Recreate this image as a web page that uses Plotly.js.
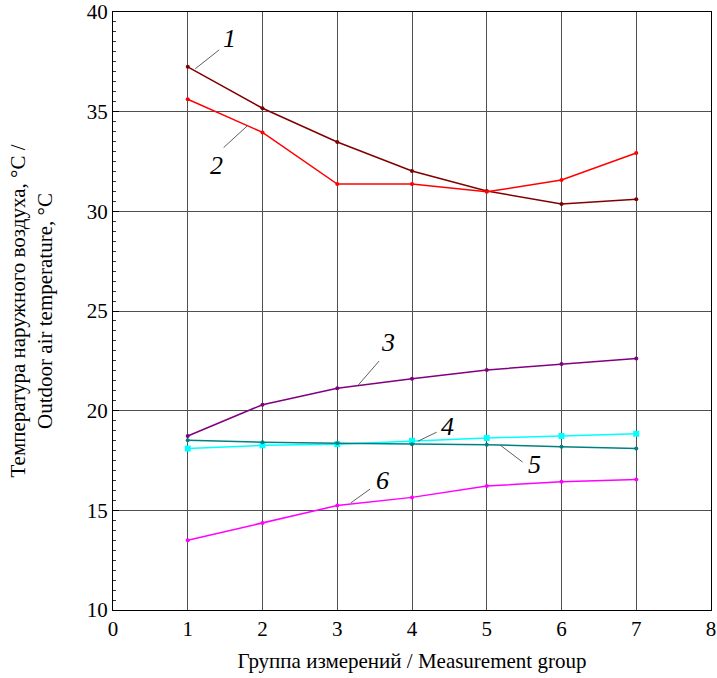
<!DOCTYPE html>
<html>
<head>
<meta charset="utf-8">
<script src="https://cdn.plot.ly/plotly-3.0.1.min.js"></script>
<style>
  html, body { margin: 0; padding: 0; background: #fff; }
  #chart { width: 717px; height: 678px; }
</style>
</head>
<body>
<div id="chart"></div>
<script>
// Measurement groups
const groups = [1, 2, 3, 4, 5, 6, 7];

// Outdoor air temperature, °C, for curves 1–6
const curve1 = [37.25, 35.17, 33.48, 32.02, 31.02, 30.37, 30.60];
const curve2 = [35.62, 33.96, 31.37, 31.37, 30.98, 31.57, 32.93];
const curve3 = [18.73, 20.30, 21.12, 21.60, 22.04, 22.34, 22.62];
const curve4 = [18.10, 18.26, 18.32, 18.49, 18.63, 18.73, 18.84];
const curve5 = [18.52, 18.42, 18.37, 18.32, 18.29, 18.19, 18.10];
const curve6 = [13.50, 14.36, 15.24, 15.65, 16.22, 16.43, 16.55];

const curveLabels = ['1', '2', '3', '4', '5', '6'];
const curveColors = ['#800000', '#ff0000', '#800080', '#00ffff', '#008080', '#ff00ff'];

const xTicks = [0, 1, 2, 3, 4, 5, 6, 7, 8];
const yTicks = [10, 15, 20, 25, 30, 35, 40];

const series = [curve1, curve2, curve3, curve4, curve5, curve6];

const traces = series.map((vals, i) => ({
  x: groups,
  y: vals,
  type: 'scatter',
  mode: 'lines+markers',
  name: curveLabels[i],
  line: { color: curveColors[i], width: 1.5 },
  marker: {
    color: curveColors[i],
    size: i === 3 ? 6 : 4,
    symbol: i === 3 ? 'square' : 'circle'
  },
  showlegend: false
}));

// Curve number labels with thin leader lines (data coordinates)
const labelPos = [
  { tx: 1.56, ty: 38.65, lx0: 1.10, ly0: 37.15, lx1: 1.42, ly1: 38.1 },
  { tx: 1.39, ty: 32.3, lx0: 1.80, ly0: 34.3, lx1: 1.48, ly1: 33.2 },
  { tx: 3.68, ty: 23.44, lx0: 3.28, ly0: 21.28, lx1: 3.56, ly1: 22.49 },
  { tx: 4.48, ty: 19.22, lx0: 4.08, ly0: 18.47, lx1: 4.33, ly1: 18.92 },
  { tx: 5.64, ty: 17.32, lx0: 5.18, ly0: 18.27, lx1: 5.48, ly1: 17.42 },
  { tx: 3.61, ty: 16.51, lx0: 3.18, ly0: 15.37, lx1: 3.44, ly1: 16.07 }
];

const annotations = labelPos.map((p, i) => ({
  x: p.tx, y: p.ty, xref: 'x', yref: 'y',
  text: curveLabels[i],
  showarrow: false,
  font: { family: 'Liberation Serif', size: 26, color: '#000', style: 'italic' }
}));

const shapes = labelPos.map(p => ({
  type: 'line', xref: 'x', yref: 'y',
  x0: p.lx0, y0: p.ly0, x1: p.lx1, y1: p.ly1,
  line: { color: '#606060', width: 1 }
}));

const layout = {
  width: 717,
  height: 678,
  margin: { l: 113, r: 6, t: 12, b: 68 },
  paper_bgcolor: '#fff',
  plot_bgcolor: '#fff',
  font: { family: 'Liberation Serif', size: 21, color: '#000' },
  xaxis: {
    range: [0, 8],
    tickvals: xTicks,
    ticktext: xTicks.map(String),
    showgrid: true,
    gridcolor: '#505050',
    gridwidth: 1,
    zeroline: false,
    showline: true,
    linecolor: '#000',
    linewidth: 1,
    mirror: true,
    ticks: '',
    tickfont: { family: 'Liberation Serif', size: 21 },
    title: { text: 'Группа измерений / Measurement group', font: { family: 'Liberation Serif', size: 21 }, standoff: 13 }
  },
  yaxis: {
    range: [10, 40],
    tickvals: yTicks,
    ticktext: yTicks.map(String),
    showgrid: true,
    gridcolor: '#505050',
    gridwidth: 1,
    zeroline: false,
    showline: true,
    linecolor: '#000',
    linewidth: 1,
    mirror: true,
    ticks: 'inside',
    ticklen: 6,
    tickcolor: '#000',
    minor: { dtick: 0.5, ticks: 'inside', ticklen: 3, tickcolor: '#333', showgrid: false },
    tickfont: { family: 'Liberation Serif', size: 21 },
    title: {
      text: 'Температура наружного воздуха, °C /<br>Outdoor air temperature, °C',
      font: { family: 'Liberation Serif', size: 21 },
      standoff: 28
    }
  },
  annotations: annotations,
  shapes: shapes
};

Plotly.newPlot('chart', traces, layout, { displayModeBar: false, staticPlot: true });
</script>
</body>
</html>
